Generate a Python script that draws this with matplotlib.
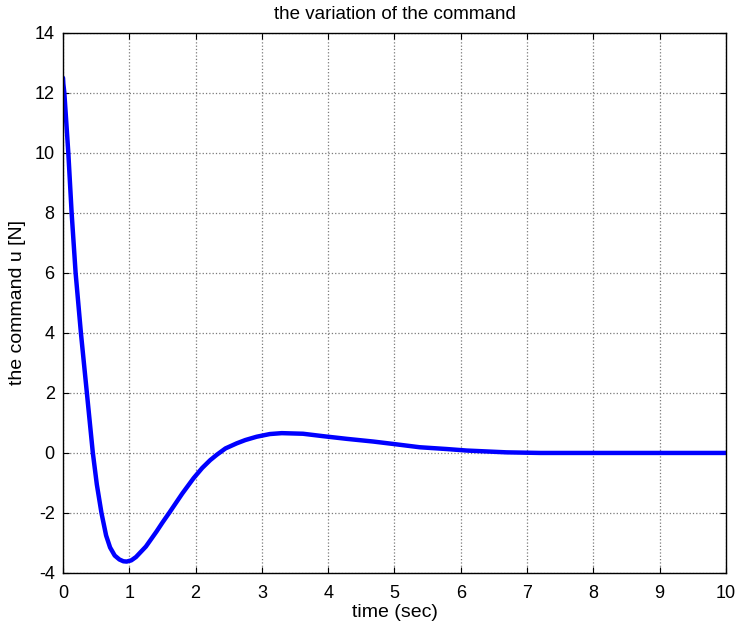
import matplotlib.pyplot as plt
import numpy as np

plt.rcParams['font.family'] = ['Liberation Sans', 'DejaVu Sans']
plt.rcParams['axes.unicode_minus'] = False

# command signal u(t), sampled points
t = [0.0, 0.005, 0.02, 0.08, 0.13, 0.19, 0.27, 0.36, 0.45, 0.51, 0.58, 0.65,
     0.71, 0.78, 0.85, 0.91, 0.96, 1.03, 1.1, 1.16, 1.25, 1.41, 1.5, 1.61,
     1.8, 1.97, 2.1, 2.22, 2.32, 2.45, 2.62, 2.75, 2.92, 3.12, 3.3, 3.62,
     3.92, 4.28, 4.68, 4.98, 5.38, 5.79, 6.09, 6.69, 7.2, 8.0, 9.0, 10.0]
u = [12.5, 12.3, 12.0, 10.0, 8.0, 6.0, 4.0, 2.0, 0.0, -1.05, -2.0, -2.75,
     -3.15, -3.42, -3.55, -3.61, -3.62, -3.58, -3.47, -3.33, -3.12, -2.62, -2.32, -1.97,
     -1.35, -0.84, -0.5, -0.24, -0.06, 0.15, 0.32, 0.43, 0.54, 0.63, 0.66, 0.64,
     0.56, 0.47, 0.38, 0.30, 0.19, 0.13, 0.08, 0.02, 0.0, 0.0, 0.0, 0.0]

fig = plt.figure(figsize=(7.37, 6.32), dpi=100)
ax = fig.add_axes([0.0855, 0.0934, 0.8995, 0.8546])

ax.plot(t, u, color='#0000ff', linewidth=3.2, solid_capstyle='round')

ax.set_xlim(0, 10)
ax.set_ylim(-4, 14)
ax.set_xticks(np.arange(0, 11, 1))
ax.set_yticks(np.arange(-4, 15, 2))
ax.grid(True, linestyle=':', color='#7a7a7a', linewidth=0.9)
ax.tick_params(direction='in', top=True, right=True, labelsize=13, length=4)
ax.tick_params(axis='x', pad=9)
ax.tick_params(axis='y', pad=6)
for s in ax.spines.values():
    s.set_linewidth(1.0)

ax.set_title('the variation of the command', fontsize=13.5, pad=10)
ax.set_xlabel('time (sec)', fontsize=14, labelpad=1)
ax.set_ylabel('the command u [N]', fontsize=14, labelpad=6)

fig.savefig('out.png', dpi=100)
